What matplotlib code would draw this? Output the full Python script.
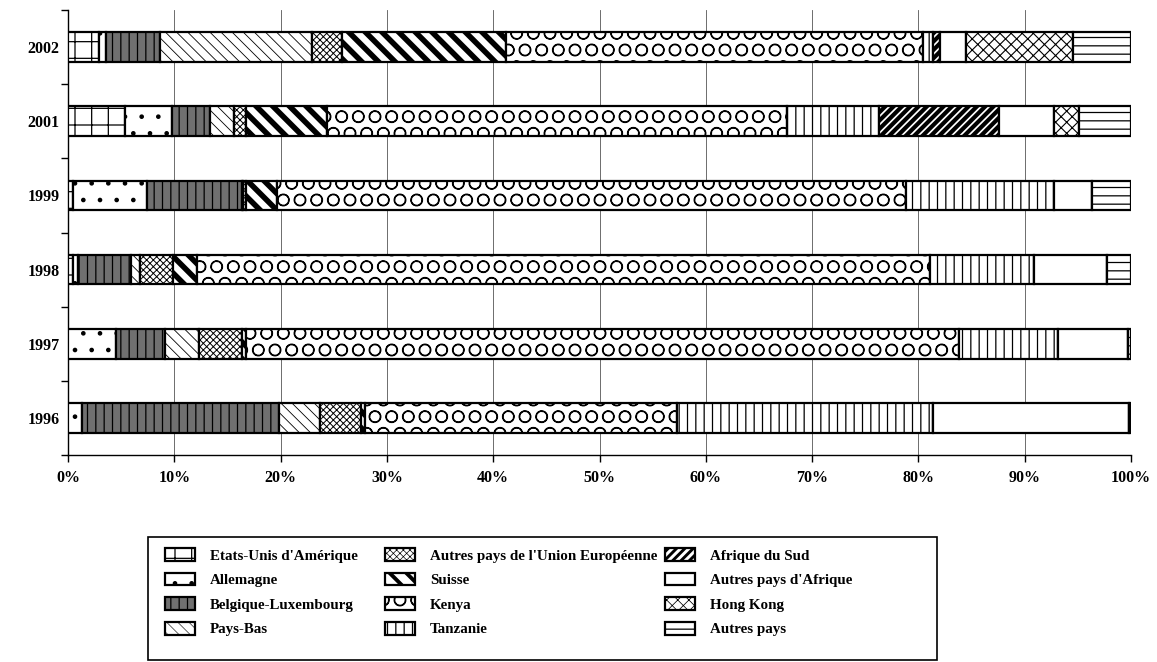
import matplotlib
matplotlib.use("Agg")
import matplotlib.pyplot as plt
from matplotlib.patches import Rectangle
import numpy as np

plt.rcParams['font.family'] = ['Liberation Serif', 'DejaVu Serif']
plt.rcParams['font.weight'] = 'bold'
plt.rcParams['hatch.linewidth'] = 0.9

years = ['1996', '1997', '1998', '1999', '2001', '2002']

countries = [
    "Etats-Unis d'Amérique", "Allemagne", "Belgique-Luxembourg", "Pays-Bas",
    "Autres pays de l'Union Européenne", "Suisse", "Kenya", "Tanzanie",
    "Afrique du Sud", "Autres pays d'Afrique", "Hong Kong", "Autres pays",
]

# shares in % per destination, one list per year (1996, 1997, 1998, 1999, 2001, 2002)
etats_unis   = [0.0,   0.0,   0.45,  0.5,   5.4,   2.95]
allemagne    = [1.28,  4.53,  0.5,   6.95,  4.37,  0.67]
belgique_lux = [18.6,  4.63,  5.0,   8.9,   3.59,  5.04]
pays_bas     = [3.86,  3.19,  0.85,  0.15,  2.24,  14.26]
autres_ue    = [3.84,  4.03,  3.1,   0.2,   1.18,  2.87]
suisse       = [0.35,  0.32,  2.25,  3.0,   7.58,  15.4]
kenya        = [29.35, 67.16, 68.9,  59.16, 43.24, 39.2]
tanzanie     = [24.1,  9.24,  9.8,   13.94, 8.7,   1.0]
afrique_sud  = [0.0,   0.0,   0.0,   0.0,   11.3,  0.65]
autres_afr   = [18.4,  6.6,   6.9,   3.5,   5.2,   2.45]
hong_kong    = [0.0,   0.0,   0.0,   0.0,   2.3,   10.1]
autres_pays  = [0.22,  0.3,   2.25,  3.7,   4.9,   5.4]

series = [etats_unis, allemagne, belgique_lux, pays_bas, autres_ue, suisse,
          kenya, tanzanie, afrique_sud, autres_afr, hong_kong, autres_pays]

styles = [
    dict(hatch='+', facecolor='white'),
    dict(hatch='.', facecolor='white'),
    dict(hatch='||', facecolor='#707070'),
    dict(hatch='\\\\\\', facecolor='white', hlw=0.6),
    dict(hatch='xxxxx', facecolor='white', hlw=0.7),
    dict(hatch='\\\\', facecolor='white', hlw=4.0),
    dict(hatch='O', facecolor='white'),
    dict(hatch='||', facecolor='white'),
    dict(hatch='////', facecolor='white', hlw=3.0),
    dict(hatch='', facecolor='white'),
    dict(hatch='xxx', facecolor='white', hlw=0.8),
    dict(hatch='--', facecolor='white'),
]


def apply_hatch_width(patch, st, scale=1.0):
    if 'hlw' in st and hasattr(patch, 'set_hatch_linewidth'):
        patch.set_hatch_linewidth(st['hlw'] * scale)


W, H = 1157, 662
fig = plt.figure(figsize=(W / 100, H / 100), dpi=100)
ax = fig.add_axes([68 / W, 1 - 455 / H, (1131 - 68) / W, (455 - 10) / H])

y = np.arange(len(years))
left = np.zeros(len(years))
handles = []
for name, vals, st in zip(countries, series, styles):
    vals = np.array(vals)
    bars = ax.barh(y, vals, left=left, height=0.4, color=st['facecolor'],
                   edgecolor='black', linewidth=1.6, hatch=st['hatch'],
                   label=name, zorder=3)
    for b in bars:
        apply_hatch_width(b, st)
    handles.append(bars)
    left += vals

ax.set_xlim(0, 100)
ax.set_ylim(-0.5, len(years) - 0.5)
ax.set_xticks(np.arange(0, 101, 10))
ax.set_xticklabels([f'{v}%' for v in range(0, 101, 10)], fontsize=11.5, fontweight='bold')
ax.set_yticks(y)
ax.set_yticklabels(years, fontsize=11.5, fontweight='bold')
ax.set_yticks(np.arange(-0.5, len(years)), minor=True)
ax.tick_params(axis='y', which='major', length=0, pad=6)
ax.tick_params(axis='y', which='minor', length=5, width=1, direction='out')
ax.tick_params(axis='x', which='major', length=5, width=1, direction='out', pad=6)
ax.xaxis.grid(True, color='#555555', linewidth=0.6, zorder=0)
for s in ['top', 'right']:
    ax.spines[s].set_visible(False)
for s in ['left', 'bottom']:
    ax.spines[s].set_linewidth(1.0)

# legend frame, then one legend per column inside it
fig.add_artist(Rectangle((148 / W, 1 - 660 / H), (937 - 148) / W, (660 - 537) / H,
                         transform=fig.transFigure, facecolor='white',
                         edgecolor='black', linewidth=1.2, zorder=1))
col_x = [165, 385, 665]
for c in range(3):
    idx = range(4 * c, 4 * c + 4)
    leg = fig.legend(handles=[handles[i] for i in idx], labels=[countries[i] for i in idx],
                     ncol=1, loc='upper left',
                     bbox_to_anchor=(col_x[c] / W, 1 - 548 / H),
                     frameon=False,
                     prop=dict(family='Liberation Serif', weight='bold', size=10.8),
                     handlelength=2.0, handleheight=0.95, handletextpad=1.0,
                     labelspacing=0.66, borderpad=0, borderaxespad=0)
    for i, patch in zip(idx, leg.get_patches()):
        apply_hatch_width(patch, styles[i], 0.7)
    leg.set_zorder(2)

fig.savefig('out.png', dpi=100)
